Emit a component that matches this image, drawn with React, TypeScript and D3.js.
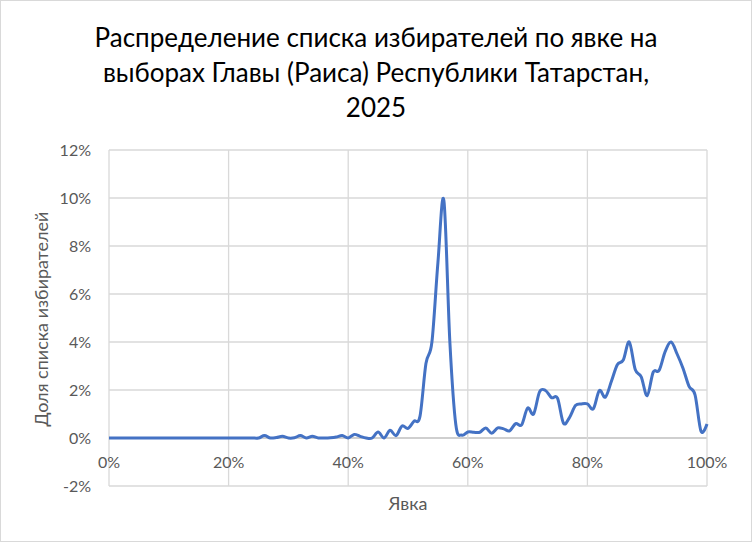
import * as d3 from 'd3';

// share of voter list (%) for each 1% turnout bin, 0..100
const shares = [
  0, 0, 0, 0, 0, 0, 0, 0, 0, 0,
  0, 0, 0, 0, 0, 0, 0, 0, 0, 0,
  0, 0, 0, 0, 0, 0, 0.1, 0, 0.02, 0.07,
  0, 0.01, 0.1, 0, 0.07, 0, 0, 0.01, 0.04, 0.1,
  0, 0.15, 0.07, 0, 0, 0.25, 0, 0.32, 0.1, 0.5,
  0.4, 0.7, 0.9, 3.1, 4.0, 7.3, 9.9, 4.0, 0.55, 0.12,
  0.25, 0.24, 0.24, 0.42, 0.2, 0.42, 0.38, 0.3, 0.6, 0.55,
  1.25, 1.0, 1.92, 1.98, 1.68, 1.66, 0.62, 0.85, 1.35, 1.42,
  1.42, 1.22, 1.98, 1.7, 2.35, 3.05, 3.25, 4.0, 2.85, 2.55,
  1.76, 2.74, 2.82, 3.6, 4.0, 3.5, 2.9, 2.15, 1.8, 0.28,
  0.58,
];
const turnout = shares.map((_, i) => i);

const xTicks = [0, 20, 40, 60, 80, 100];
const yTicks = [-2, 0, 2, 4, 6, 8, 10, 12];
const titleLines = [
  'Распределение списка избирателей по явке на',
  'выборах Главы (Раиса) Республики Татарстан,',
  '2025',
];

const W = 752;
const H = 542;
const FONT = 'Lato, "Noto Sans", sans-serif';

export default function App() {
  const x = d3.scaleLinear().domain([0, 100]).range([109, 707]);
  const y = d3.scaleLinear().domain([-2, 12]).range([486, 150]);

  const line = d3.line<number>()
    .x((_, i) => x(turnout[i]))
    .y(d => y(d))
    .curve(d3.curveCatmullRom.alpha(0));

  return (
    <svg width={W} height={H} style={{ position: 'absolute', left: 0, top: 0, background: '#fff' }}
      fontFamily={FONT}>
      <rect x={0.5} y={0.5} width={W - 1} height={H - 1} fill="#fff" stroke="#d9d9d9" />

      {titleLines.map((t, i) => (
        <text key={i} x={376} y={47 + i * 35} textAnchor="middle" fontSize={26} fill="#000">{t}</text>
      ))}

      {/* gridlines */}
      {yTicks.map(t => (
        <line key={'gy' + t} x1={x(0)} x2={x(100)} y1={y(t)} y2={y(t)}
          stroke={t === 0 ? '#bfbfbf' : '#d9d9d9'} strokeWidth={1.3} />
      ))}
      {xTicks.map(t => (
        <line key={'gx' + t} x1={x(t)} x2={x(t)} y1={y(12)} y2={y(-2)} stroke="#d9d9d9" strokeWidth={1.3} />
      ))}

      {/* y tick labels */}
      {yTicks.map(t => (
        <text key={'ly' + t} x={91} y={y(t)} dy="0.35em" textAnchor="end" fontSize={16} fill="#595959">
          {t + '%'}
        </text>
      ))}
      {/* x tick labels, sit under the 0 line */}
      {xTicks.map(t => (
        <text key={'lx' + t} x={x(t)} y={y(0) + 30} textAnchor="middle" fontSize={16} fill="#595959">
          {t + '%'}
        </text>
      ))}

      <path d={line(shares) ?? ''} fill="none" stroke="#4472c4" strokeWidth={3} strokeLinejoin="round" />

      <text x={408} y={510} textAnchor="middle" fontSize={18} fill="#595959">Явка</text>
      <text transform={`translate(48,319) rotate(-90)`} textAnchor="middle" fontSize={18} fill="#595959">
        Доля списка избирателей
      </text>
    </svg>
  );
}
